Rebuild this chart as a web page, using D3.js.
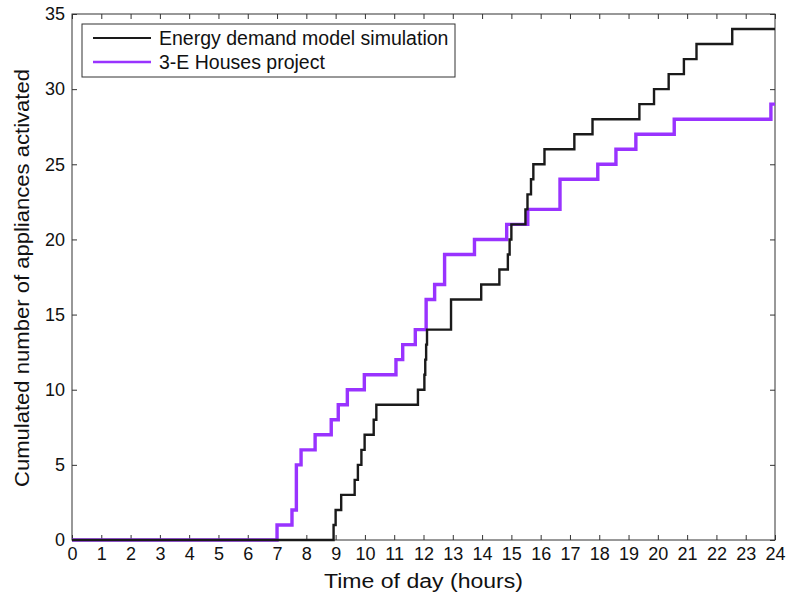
<!DOCTYPE html>
<html>
<head>
<meta charset="utf-8">
<script src="https://cdn.jsdelivr.net/npm/d3@7.9.0/dist/d3.min.js"></script>
<style>
  body { margin: 0; background: #fff; }
  svg text { font-family: "Liberation Sans", Arial, sans-serif; fill: #111; }
</style>
</head>
<body>
<svg id="chart" width="787" height="599"></svg>
<script>
// cumulated activations (hours, count)
const simTimes = [0, 8.93, 9.0, 9.19, 9.65, 9.76, 9.88, 9.99, 10.3, 10.39, 11.81, 12.03, 12.06, 12.09, 12.12,
  12.94, 13.97, 14.59, 14.88, 14.94, 15.0, 15.48, 15.55, 15.67, 15.75, 16.13, 17.15, 17.77, 19.37, 19.87,
  20.37, 20.89, 21.32, 22.54, 24];
const simCounts = [0, 1, 2, 3, 4, 5, 6, 7, 8, 9, 10, 11, 12, 13, 14,
  16, 17, 18, 19, 20, 21, 22, 23, 24, 25, 26, 27, 28, 29, 30,
  31, 32, 33, 34, 34];

const projTimes = [0, 7.0, 7.51, 7.66, 7.82, 8.3, 8.85, 9.09, 9.4, 9.98, 11.06, 11.29, 11.72, 12.09, 12.38,
  12.72, 13.74, 14.84, 15.56, 16.66, 17.95, 18.57, 19.25, 20.56, 23.86, 24];
const projCounts = [0, 1, 2, 5, 6, 7, 8, 9, 10, 11, 12, 13, 14, 16, 17,
  19, 20, 21, 22, 24, 25, 26, 27, 28, 29, 29];

const seriesNames = ["Energy demand model simulation", "3-E Houses project"];
const seriesColors = ["#1a1a1a", "#9933ff"];
const xTicks = d3.range(0, 25, 1);
const yTicks = d3.range(0, 36, 5);

const svg = d3.select('#chart');
const pLeft = 72, pRight = 775, pTop = 14, pBottom = 540;

let x = d3.scaleLinear().domain([0, 24]).range([pLeft, pRight]);
let y = d3.scaleLinear().domain([0, 35]).range([pBottom, pTop]);

// box
svg.append('rect')
  .attr('x', pLeft).attr('y', pTop)
  .attr('width', pRight - pLeft).attr('height', pBottom - pTop)
  .attr('fill', 'none').attr('stroke', '#333').attr('stroke-width', 1);

let xAxis = svg.append('g').attr('transform', `translate(0,${pBottom})`)
  .call(d3.axisBottom(x).tickValues(xTicks).tickSize(-5).tickPadding(7).tickFormat(d3.format('d')));
let xTop = svg.append('g').attr('transform', `translate(0,${pTop})`)
  .call(d3.axisTop(x).tickValues(xTicks).tickSize(-5).tickFormat(''));
let yAxis = svg.append('g').attr('transform', `translate(${pLeft},0)`)
  .call(d3.axisLeft(y).tickValues(yTicks).tickSize(-5).tickPadding(7));
let yRight = svg.append('g').attr('transform', `translate(${pRight},0)`)
  .call(d3.axisRight(y).tickValues(yTicks).tickSize(-5).tickFormat(''));

[xAxis, xTop, yAxis, yRight].forEach(g => {
  g.select('.domain').remove();
  g.selectAll('.tick line').attr('stroke', '#333');
});
xAxis.selectAll('text').style('font-size', '18px');
yAxis.selectAll('text').style('font-size', '18px');

// axis titles
svg.append('text')
  .attr('x', (pLeft + pRight) / 2).attr('y', 588)
  .attr('text-anchor', 'middle')
  .attr('textLength', 199).attr('lengthAdjust', 'spacingAndGlyphs')
  .style('font-size', '20px')
  .text('Time of day (hours)');

svg.append('text')
  .attr('transform', `translate(29,${(pTop + pBottom) / 2 + 1}) rotate(-90)`)
  .attr('text-anchor', 'middle')
  .attr('textLength', 418).attr('lengthAdjust', 'spacingAndGlyphs')
  .style('font-size', '20px')
  .text('Cumulated number of appliances activated');

// step lines
let line = d3.line()
  .x(d => x(d[0]))
  .y(d => y(d[1]))
  .curve(d3.curveStepAfter);

let simData = simTimes.map((t, i) => [t, simCounts[i]]);
let projData = projTimes.map((t, i) => [t, projCounts[i]]);

svg.append('path')
  .datum(projData)
  .attr('d', line)
  .attr('fill', 'none')
  .attr('stroke', seriesColors[1])
  .attr('stroke-width', 3.4);

svg.append('path')
  .datum(simData)
  .attr('d', line)
  .attr('fill', 'none')
  .attr('stroke', seriesColors[0])
  .attr('stroke-width', 2.4);

// legend
let legend = svg.append('g');
legend.append('rect')
  .attr('x', 82).attr('y', 24).attr('width', 373).attr('height', 53)
  .attr('fill', '#fff').attr('stroke', '#333').attr('stroke-width', 1);

seriesNames.forEach((name, i) => {
  let ly = 38 + i * 24;
  legend.append('line')
    .attr('x1', 93).attr('x2', 151)
    .attr('y1', ly).attr('y2', ly)
    .attr('stroke', seriesColors[i])
    .attr('stroke-width', i === 0 ? 2.2 : 2.6);
  legend.append('text')
    .attr('x', 159).attr('y', ly + 7)
    .style('font-size', '19.5px')
    .text(name);
});
</script>
</body>
</html>
